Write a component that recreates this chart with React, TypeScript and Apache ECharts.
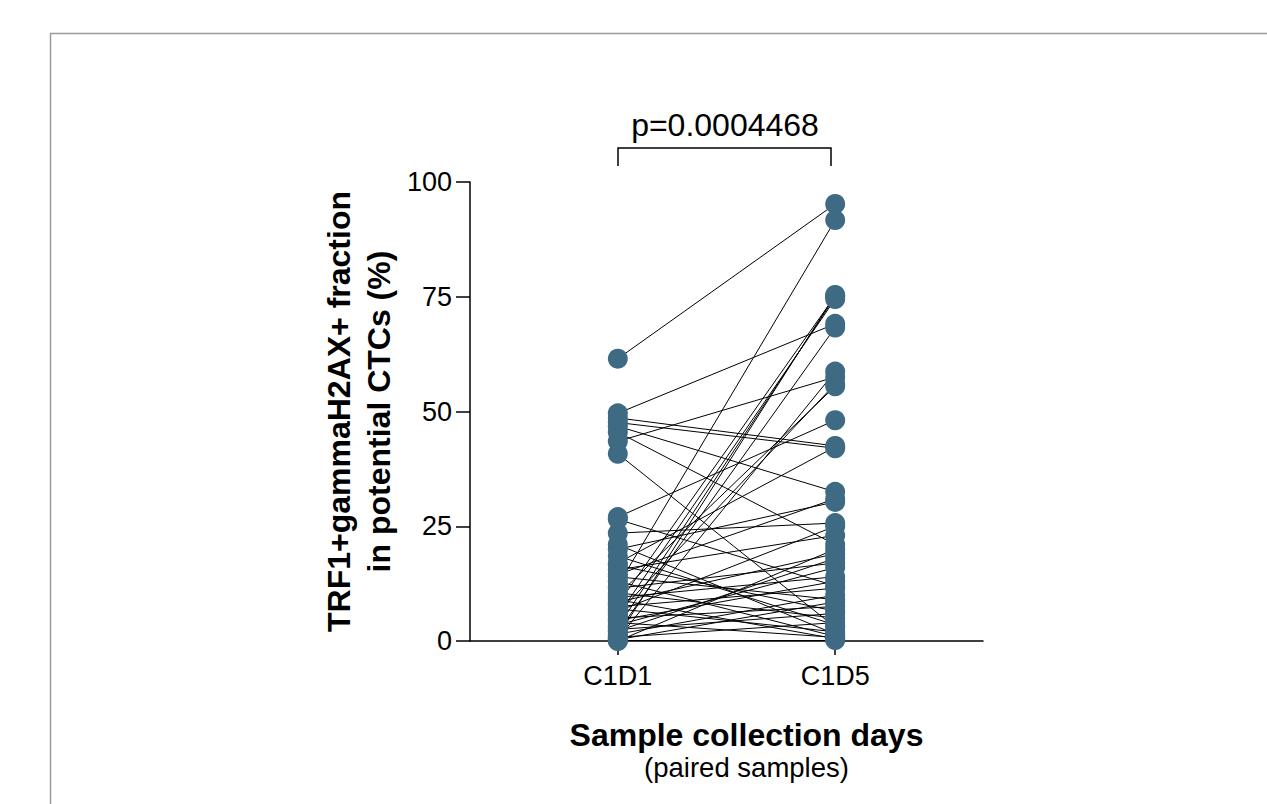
import React, { useEffect, useRef } from "react";
import * as echarts from "echarts";

const categories = ["C1D1", "C1D5"];
const yTicks = [0, 25, 50, 75, 100];
const pValueText = "p=0.0004468";

// Paired values: C1D1 (left) and C1D5 (right), same index = same patient
const c1d1 = [
  61.5, 12.0, 1.0, 3.0, 5.5, 8.0, 49.6, 2.0, 0.5, 43.5, 6.0, 10.0, 27.0, 48.6, 47.6, 17.0,
  46.8, 20.0, 23.5, 40.8, 45.5, 15.5, 14.0, 13.0, 11.5, 10.5, 9.5, 9.0, 8.5, 7.5, 7.0, 6.5,
  5.0, 4.5, 4.0, 3.5, 2.5, 1.5, 0.8, 0.3, 0.0, 16.5, 21.0, 26.5, 18.5, 14.5, 0.2, 2.2,
];
const c1d5 = [
  95.2, 91.7, 75.4, 75.0, 74.5, 75.2, 69.1, 68.3, 58.7, 57.5, 56.0, 55.5, 48.1, 42.5, 42.0, 42.3,
  32.5, 30.3, 25.7, 3.0, 21.0, 23.0, 9.0, 1.0, 17.0, 5.0, 14.0, 0.5, 19.0, 11.5, 2.0, 25.0,
  7.5, 13.0, 0.8, 16.0, 6.0, 10.0, 4.0, 8.5, 20.0, 6.5, 1.5, 12.0, 3.5, 31.0, 0.2, 18.0,
];

const DOT = "#3e6a83";
const FONT = "'Liberation Sans', Arial, Helvetica, sans-serif";

export default function App() {
  const ref = useRef<HTMLDivElement>(null);
  useEffect(() => {
    if (!ref.current) return;
    const chart = echarts.init(ref.current, null, { renderer: "svg" });
    const pairLines = c1d1.map((v, i) => ({ coords: [[0, v], [1, c1d5[i]]] }));
    const points: number[][] = [];
    c1d1.forEach((v) => points.push([0, v]));
    c1d5.forEach((v) => points.push([1, v]));

    chart.setOption({
      animation: false,
      backgroundColor: "#ffffff",
      textStyle: { fontFamily: FONT, color: "#000" },
      grid: { left: 470, right: 284, top: 182, bottom: 163, containLabel: false },
      xAxis: {
        type: "value",
        min: -0.68,
        max: 1.68,
        splitLine: { show: false },
        axisLine: { show: true, onZero: false, lineStyle: { color: "#000", width: 1.5 } },
        axisTick: { show: true, customValues: [0, 1], length: 14, lineStyle: { color: "#000", width: 1.5 } },
        axisLabel: {
          customValues: [0, 1],
          formatter: (v: number) => categories[Math.round(v)] ?? "",
          fontSize: 27,
          color: "#000",
          margin: 21,
          fontFamily: FONT,
        },
        name: "{b|Sample collection days}\n{r|(paired samples)}",
        nameLocation: "middle",
        nameGap: 77,
        nameTextStyle: {
          padding: [0, 0, 0, 40],
          rich: {
            b: { fontSize: 32, fontWeight: "bold", color: "#000", fontFamily: FONT, lineHeight: 33 },
            r: { fontSize: 27.5, color: "#000", fontFamily: FONT, lineHeight: 33 },
          },
        },
      },
      yAxis: {
        type: "value",
        min: 0,
        max: 100,
        interval: 25,
        splitLine: { show: false },
        axisLine: { show: true, onZero: false, lineStyle: { color: "#000", width: 1.5 } },
        axisTick: { show: true, length: 14, lineStyle: { color: "#000", width: 1.5 } },
        axisLabel: {
          fontSize: 27,
          color: "#000",
          margin: 18,
          fontFamily: FONT,
          customValues: yTicks,
        },
        name: "{b|TRF1+gammaH2AX+ fraction}\n{b|in potential CTCs (%)}",
        nameLocation: "middle",
        nameGap: 71,
        nameTextStyle: {
          rich: {
            b: { fontSize: 32, fontWeight: "bold", color: "#000", fontFamily: FONT, lineHeight: 40 },
          },
        },
      },
      graphic: [
        {
          type: "rect",
          shape: { x: 50.5, y: 33.5, width: 1400, height: 1000 },
          style: { fill: "none", stroke: "#9a9a9a", lineWidth: 1.5 },
          silent: true,
        },
        {
          type: "polyline",
          shape: { points: [[618, 166], [618, 148], [831, 148], [831, 166]] },
          style: { fill: "none", stroke: "#000", lineWidth: 1.5 },
        },
        {
          type: "text",
          x: 725,
          y: 125,
          style: {
            text: pValueText,
            fontSize: 32,
            fontFamily: FONT,
            fill: "#000",
            align: "center",
            verticalAlign: "middle",
          },
        },
      ],
      series: [
        {
          type: "lines",
          coordinateSystem: "cartesian2d",
          data: pairLines,
          lineStyle: { color: "#000", width: 1, opacity: 1 },
          z: 2,
          silent: true,
        },
        {
          type: "scatter",
          data: points,
          symbol: "circle",
          symbolSize: 20,
          itemStyle: { color: DOT, opacity: 1 },
          z: 3,
          silent: true,
        },
      ],
    });
    return () => chart.dispose();
  }, []);
  return (
    <div
      ref={ref}
      style={{ position: "fixed", left: 0, top: 0, width: 1267, height: 804, background: "#fff" }}
    />
  );
}
